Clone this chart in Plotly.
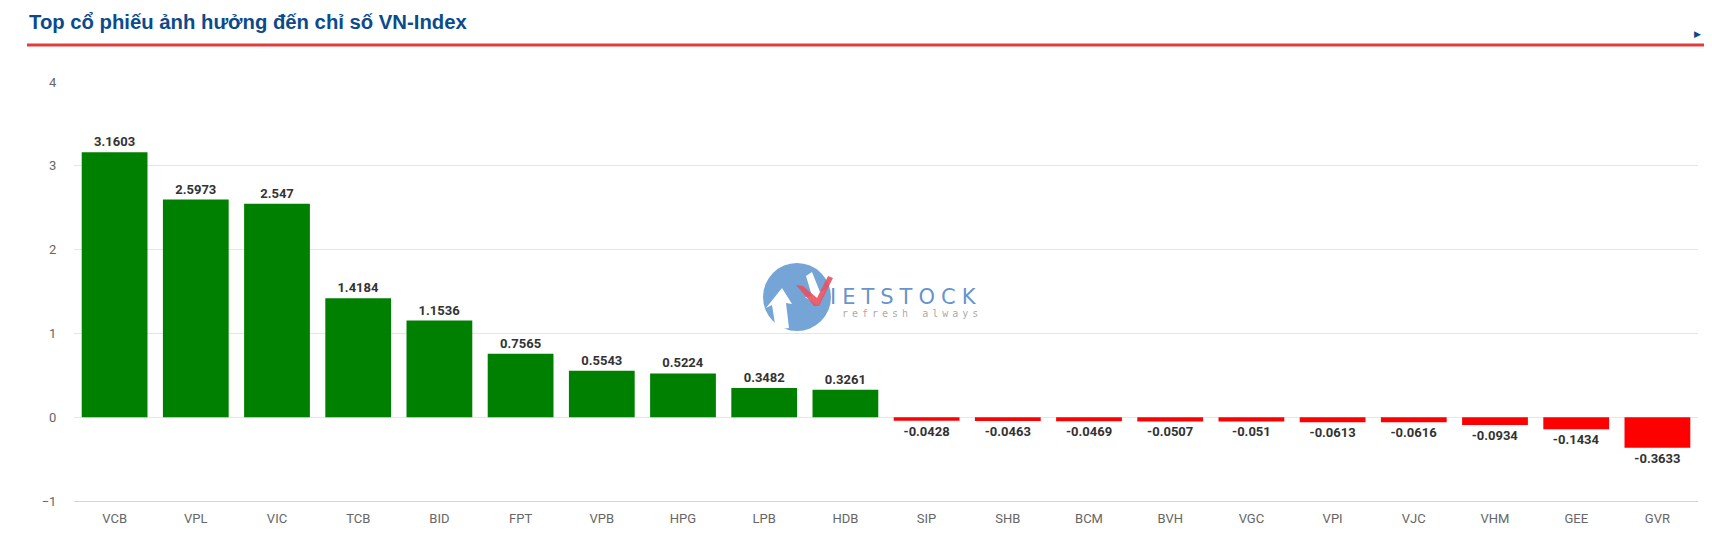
import plotly.graph_objects as go

tickers = ["VCB", "VPL", "VIC", "TCB", "BID", "FPT", "VPB", "HPG", "LPB", "HDB",
           "SIP", "SHB", "BCM", "BVH", "VGC", "VPI", "VJC", "VHM", "GEE", "GVR"]
impact = [3.1603, 2.5973, 2.547, 1.4184, 1.1536, 0.7565, 0.5543, 0.5224, 0.3482, 0.3261,
          -0.0428, -0.0463, -0.0469, -0.0507, -0.051, -0.0613, -0.0616, -0.0934, -0.1434, -0.3633]
y_ticks = [-1, 0, 1, 2, 3, 4]
title_text = "Top cổ phiếu ảnh hưởng đến chỉ số VN-Index"

# page has an 8px body margin; figure is sized to fit inside the viewport
OFF = 8
W, H = 1712 - 2 * OFF, 537 - 2 * OFF
L, T = 74 - OFF, 82 - OFF
R = W - (1698 - OFF)
B = H - (501 - OFF)
plot_h = H - T - B
plot_w = W - L - R

def px_x(p):
    return (p - OFF - L) / plot_w

def px_y(p):
    return (H - B - (p - OFF)) / plot_h

colors = ["#008000" if v >= 0 else "#ff0000" for v in impact]

fig = go.Figure()
fig.add_trace(go.Bar(
    x=tickers, y=impact,
    marker=dict(color=colors, line=dict(width=0)),
    text=[str(v) for v in impact],
    textposition="outside",
    textfont=dict(family="Roboto, Arial, sans-serif", size=13, color="#333333", weight="bold"),
    cliponaxis=False,
    hoverinfo="x+y",
))

fig.update_layout(
    width=W, height=H,
    margin=dict(l=L, r=R, t=T, b=B, pad=0, autoexpand=False),
    paper_bgcolor="white", plot_bgcolor="white",
    bargap=0.19,
    showlegend=False,
    font=dict(family="Roboto, Arial, sans-serif"),
    xaxis=dict(
        automargin=False,
        tickfont=dict(size=13, color="#666666"),
        showline=True, linecolor="#ccd6eb", linewidth=1,
        showgrid=False, ticks="outside", ticklen=5, tickcolor="rgba(0,0,0,0)",
    ),
    yaxis=dict(
        automargin=False,
        range=[-1, 4], tickvals=y_ticks,
        tickfont=dict(size=13, color="#666666"),
        gridcolor="#e6e6e6", gridwidth=1,
        zeroline=True, zerolinecolor="#e6e6e6", zerolinewidth=1,
        ticks="outside", ticklen=14, tickcolor="rgba(0,0,0,0)",
        showline=False,
    ),
)

# Title
fig.add_annotation(
    text="<b>" + title_text + "</b>",
    xref="paper", yref="paper", x=px_x(27), y=px_y(22),
    xanchor="left", yanchor="middle", showarrow=False,
    font=dict(family="Liberation Sans, Arial, sans-serif", size=20.3, color="#0b4b8c"),
)
# Red underline
fig.add_shape(type="line", xref="paper", yref="paper",
              x0=px_x(27), x1=px_x(1712), y0=px_y(45), y1=px_y(45),
              line=dict(color="#e03c3c", width=3))
# Small arrow marker
fig.add_annotation(
    text="▶", xref="paper", yref="paper", x=px_x(1697), y=px_y(34),
    xanchor="center", yanchor="middle", showarrow=False,
    font=dict(family="DejaVu Sans", size=9, color="#0b4b8c"),
)

# Watermark logo
fig.add_shape(type="circle", xref="paper", yref="paper",
              x0=px_x(763), x1=px_x(831), y0=px_y(331), y1=px_y(263),
              fillcolor="rgba(70,135,200,0.75)", line=dict(width=0), layer="above")

def path(points):
    return "M " + " L ".join(f"{px_x(a):.5f},{px_y(b):.5f}" for a, b in points) + " Z"

# white arrows inside the circle
fig.add_shape(type="path", xref="paper", yref="paper", layer="above",
              path=path([(776, 330), (772, 305), (766, 308), (782, 288), (792, 304),
                         (786, 303), (789, 328)]),
              fillcolor="white", line=dict(width=0))
fig.add_shape(type="path", xref="paper", yref="paper", layer="above",
              path=path([(812, 272), (820, 292), (826, 289), (818, 306), (805, 297),
                         (812, 296), (806, 276)]),
              fillcolor="white", line=dict(width=0))
# red chevron "V"
fig.add_shape(type="path", xref="paper", yref="paper", layer="above",
              path=path([(796, 285), (803, 286), (817, 298), (828, 276), (833, 278),
                         (819, 306), (814, 306)]),
              fillcolor="rgba(232,80,95,0.9)", line=dict(width=0))
fig.add_annotation(
    text="<span style='letter-spacing:6px'>IETSTOCK</span>",
    xref="paper", yref="paper", x=px_x(828), y=px_y(297),
    xanchor="left", yanchor="middle", showarrow=False,
    font=dict(family="DejaVu Sans, sans-serif", size=21, color="rgba(60,120,190,0.8)"),
)
fig.add_annotation(
    text="<span style='letter-spacing:4px'>refresh always</span>",
    xref="paper", yref="paper", x=px_x(840), y=px_y(313),
    xanchor="left", yanchor="middle", showarrow=False,
    font=dict(family="DejaVu Sans Mono, monospace", size=10, color="rgba(130,130,130,0.7)"),
)

fig.write_html("out.html")
